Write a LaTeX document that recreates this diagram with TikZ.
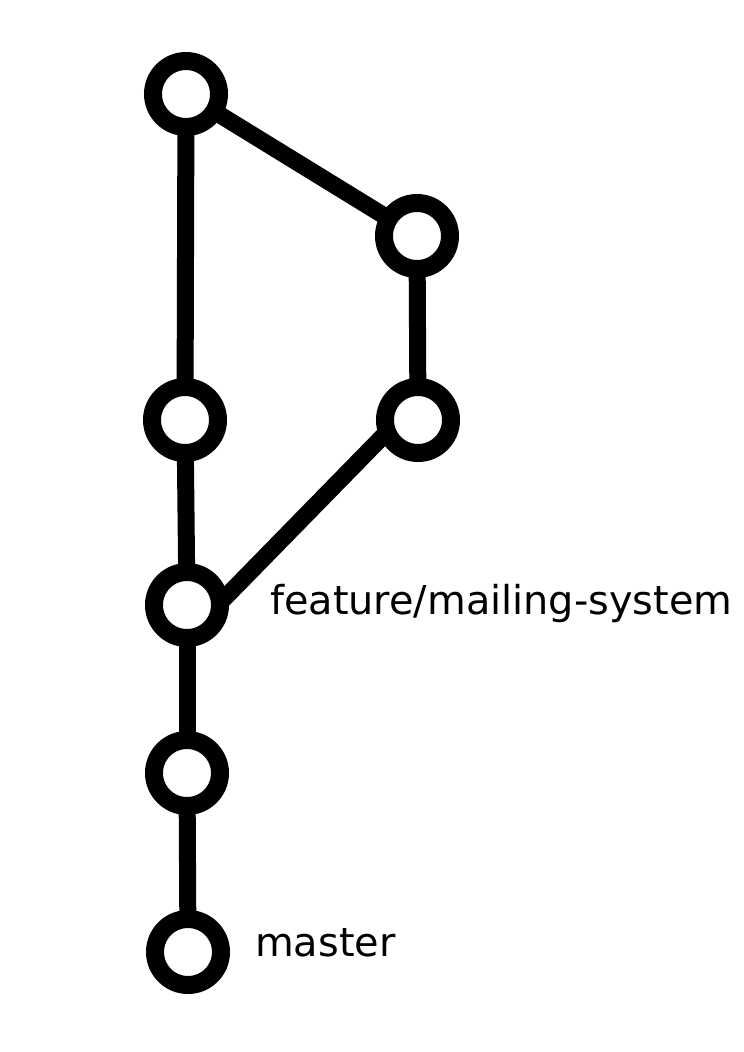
\documentclass[tikz,border=0pt]{standalone}
\usepackage{fontspec}
\setmainfont{DejaVu Sans}
\usetikzlibrary{calc}
\pgfdeclarelayer{background}
\pgfsetlayers{background,main}
\begin{document}
\begin{tikzpicture}[x=1pt,y=-1pt,
  commit/.style={circle,draw=black,fill=white,line width=18pt,minimum size=66pt,inner sep=0pt},
  link/.style={line width=17pt,black},
  lbl/.style={anchor=base west,inner sep=0pt,font=\fontsize{39.8}{48}\selectfont}]
\useasboundingbox (0,0) rectangle (744,1052);
\node[commit] (A) at (186,94) {};
\node[commit] (B) at (417,236) {};
\node[commit] (C) at (185,420) {};
\node[commit] (D) at (418,420) {};
\node[commit] (E) at (187,605) {};
\node[commit] (F) at (187,773) {};
\node[commit] (G) at (188,952) {};
\begin{pgfonlayer}{background}
\draw[link] (A.center) -- (C.center);
\draw[link] (A.center) -- (B.center);
\draw[link] (B.center) -- (D.center);
\draw[link] (C.center) -- (E.center);
\draw[link] ($(D.center)+(-28,9)$) -- ($(E.center)+(22,9)$);
\draw[link] (E.center) -- (F.center);
\draw[link] (F.center) -- (G.center);
\end{pgfonlayer}
\node[lbl] (fl) at (270,614) {feature/mailing-system};
\node[lbl] (ml) at (255,956) {master};
\end{tikzpicture}
\end{document}
